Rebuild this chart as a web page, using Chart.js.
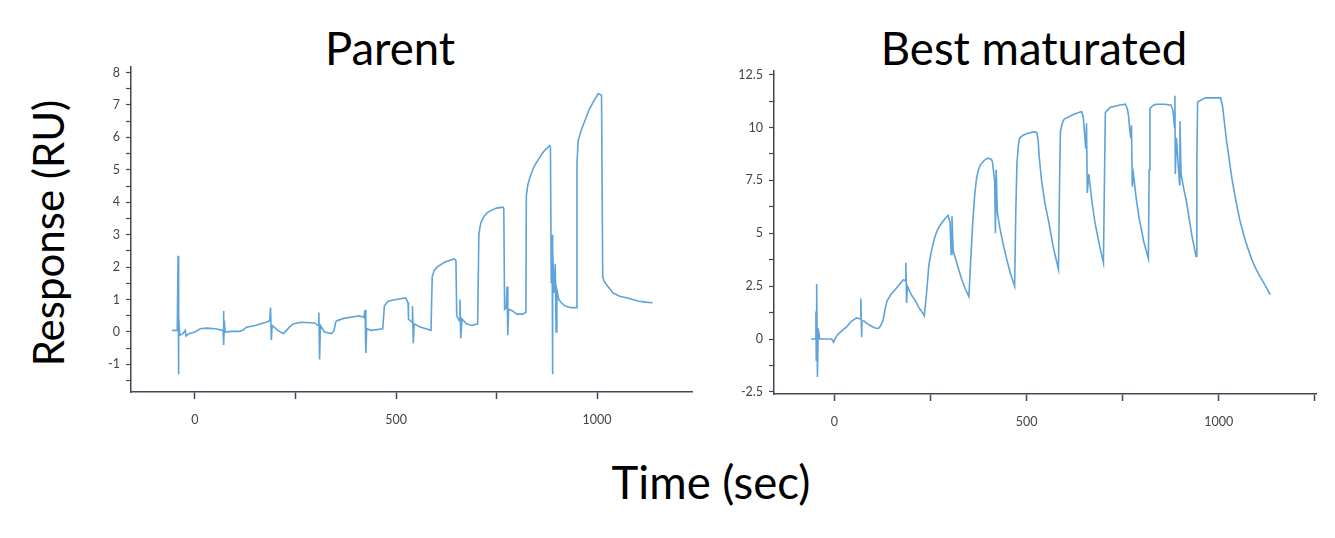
<!DOCTYPE html>
<html>
<head>
<meta charset="utf-8">
<script src="https://cdn.jsdelivr.net/npm/chart.js@4/dist/chart.umd.min.js"></script>
<style>
    body { margin:0; width:1335px; height:538px; background:#fff; position:relative; overflow:hidden; font-family:Lato, sans-serif; }
    canvas { position:absolute; }
    .lbl { position:absolute; color:#000; font-family:Lato, sans-serif; font-size:45.5px; white-space:nowrap; transform:translate(-50%,-50%); }
</style>
</head>
<body>
<div class="lbl" style="left:390px;top:47px;">Parent</div>
<div class="lbl" style="left:1034px;top:47px;">Best maturated</div>
<div class="lbl" style="left:711px;top:481px;">Time (sec)</div>
<div class="lbl" style="left:48px;top:233px;font-size:42px;transform:translate(-50%,-50%) rotate(-90deg);">Response (RU)</div>

<canvas id="parentChart" width="650" height="410" style="left:60px;top:50px;"></canvas>
<canvas id="bestChart" width="635" height="410" style="left:700px;top:50px;"></canvas>

<script>
// Parent sensorgram (time in sec, response in RU)
const parentTime = [-57,-44,-42,-41,-40,-38,-30,-24,-22,-15,0,13,30,51,70,71,72,73,75,90,110,119,128,150,177,186,188,190,192,206,220,235,244,264,298,306,308,310,312,322,340,346,350,353,370,409,420,423,425,427,438,467,471,480,500,524,530,531,540,541,543,545,560,587,589,590,595,602,620,645,649,651,657,659,661,664,675,689,703,706,709,712,718,727,737,750,766,768,770,774,776,778,780,790,800,814,823,824,828,834,843,853,862,870,882,884,886,888,889,890,893,896,898,900,905,911,921,935,949,950,953,960,969,980,991,1003,1011,1014,1018,1027,1040,1056,1075,1104,1120,1138];
const parentResp = [0.05,0.05,2.35,-1.3,0.5,-0.1,-0.05,0.05,-0.12,-0.05,0.0,0.1,0.12,0.1,0.05,0.65,-0.4,0.35,0.0,0.02,0.02,0.05,0.15,0.2,0.3,0.35,0.75,-0.25,0.2,0.05,-0.05,0.15,0.25,0.3,0.28,0.2,0.6,-0.85,0.2,0.0,-0.05,0.05,0.3,0.35,0.42,0.5,0.45,0.68,-0.65,0.1,0.05,0.1,0.8,0.95,1.0,1.05,0.9,0.4,0.3,0.8,-0.35,0.25,0.15,0.05,0.05,1.7,1.9,2.0,2.15,2.25,2.2,0.5,0.35,1.0,-0.2,0.4,0.25,0.2,0.25,3.0,3.25,3.4,3.55,3.68,3.75,3.82,3.85,3.8,0.7,0.75,1.4,-0.1,0.7,0.65,0.55,0.55,0.6,4.2,4.55,4.8,5.1,5.3,5.48,5.6,5.75,5.7,1.5,3.0,-1.3,2.5,1.2,2.1,0.0,1.3,1.0,0.9,0.8,0.75,0.75,5.2,5.9,6.2,6.5,6.85,7.1,7.35,7.3,1.7,1.55,1.4,1.2,1.1,1.05,0.95,0.92,0.9];

// Best maturated sensorgram
const bestTime = [-60,-50,-48,-47,-46,-44,-42,-38,-20,-7,-2,0,8,20,33,45,58,68,69,71,72,77,87,97,106,115,121,127,132,137,147,157,170,180,185,186,188,190,200,211,221,231,234,240,246,253,261,268,276,286,296,301,304,306,309,315,320,330,340,350,355,360,365,370,375,379,390,399,408,411,415,417,419,421,424,430,439,448,458,469,472,475,479,482,490,500,521,527,530,533,539,548,558,570,583,586,588,593,598,620,643,646,648,651,654,656,658,662,670,678,690,700,703,705,717,740,757,762,765,768,771,773,775,778,785,792,805,817,819,821,830,837,860,876,881,885,886,887,890,898,899,902,909,916,930,941,943,945,965,1005,1010,1015,1020,1025,1030,1035,1045,1055,1070,1085,1097,1109,1122,1134];
const bestResp = [0.0,0.0,1.3,-1.0,2.6,-1.8,0.5,0.0,0.0,0.0,-0.15,-0.05,0.2,0.4,0.6,0.85,1.0,0.95,1.9,0.1,0.85,0.85,0.7,0.6,0.52,0.5,0.65,0.9,1.4,1.8,2.1,2.3,2.6,2.8,2.75,3.6,1.7,2.5,2.1,1.8,1.45,1.2,1.1,2.2,3.5,4.2,4.8,5.15,5.4,5.65,5.85,5.5,4.0,5.8,4.2,3.8,3.5,2.9,2.4,2.0,3.8,5.5,6.8,7.6,8.0,8.2,8.45,8.55,8.5,8.4,7.8,7.5,5.0,8.0,6.0,5.3,4.5,3.8,3.1,2.5,6.0,8.3,9.2,9.5,9.62,9.7,9.8,9.75,9.4,8.6,7.5,6.4,5.5,4.3,3.3,7.5,9.8,10.2,10.4,10.6,10.75,10.6,10.4,9.7,9.0,10.2,6.9,7.8,6.5,5.5,4.4,3.6,8.0,10.7,10.95,11.05,11.1,10.9,10.6,10.0,9.5,10.1,7.2,7.8,6.7,5.8,4.6,3.8,8.0,10.9,11.05,11.1,11.1,11.05,10.8,10.0,11.5,7.8,9.5,7.3,10.3,7.8,7.1,6.5,4.9,3.9,8.5,11.2,11.4,11.4,11.0,10.2,9.4,8.8,8.1,7.5,6.5,5.6,4.6,3.8,3.3,2.9,2.5,2.1];

const axisColor = '#3f4954';
const lineColor = '#5ea3da';
const tickFont = { family: 'Lato, sans-serif', size: 12.5 };

function isMultiple(v, step){
    return Math.abs(v/step - Math.round(v/step)) < 1e-6;
}

function makeChart(id, times, values, opt){
    const ctx = document.getElementById(id).getContext('2d');
    return new Chart(ctx, {
        type: 'line',
        data: {
            datasets: [{
                data: times.map((t,i)=>({x:t, y:values[i]})),
                borderColor: lineColor,
                borderWidth: 1.6,
                pointRadius: 0,
                tension: 0,
                fill: false
            }]
        },
        options: {
            responsive: false,
            animation: false,
            devicePixelRatio: 1,
            layout: { padding: opt.padding },
            plugins: { legend:{display:false}, tooltip:{enabled:false} },
            scales: {
                x: {
                    type: 'linear',
                    min: opt.xMin, max: opt.xMax,
                    afterFit: s => { s.height = 50; },
                    border: { display:true, color:axisColor, width:1.5 },
                    grid: { drawOnChartArea:false, drawTicks:true, tickLength:7, color:axisColor, tickWidth:1.5 },
                    ticks: {
                        stepSize: 250, includeBounds: false, autoSkip: false, maxRotation: 0,
                        padding: 13, color: '#444', font: tickFont,
                        callback: v => isMultiple(v, 500) ? String(v) : ''
                    }
                },
                y: {
                    min: opt.yMin, max: opt.yMax,
                    afterFit: s => { s.width = opt.yWidth; },
                    border: { display:true, color:axisColor, width:1.5 },
                    grid: { drawOnChartArea:false, drawTicks:true, tickLength:5, color:axisColor, tickWidth:1.2 },
                    ticks: {
                        stepSize: opt.yStep, includeBounds: false, autoSkip: false,
                        padding: 6, color: '#444', font: tickFont,
                        callback: v => isMultiple(v, opt.yLabelStep) ? String(v) : ''
                    }
                }
            }
        }
    });
}

makeChart('parentChart', parentTime, parentResp, {
    xMin: -159, xMax: 1236, yMin: -1.85, yMax: 8.17,
    yStep: 0.5, yLabelStep: 1, yWidth: 71,
    padding: { top:17, right:18, bottom:18, left:0 }
});

makeChart('bestChart', bestTime, bestResp, {
    xMin: -157, xMax: 1253, yMin: -2.6, yMax: 12.67,
    yStep: 1.25, yLabelStep: 2.5, yWidth: 74,
    padding: { top:21, right:19, bottom:16, left:0 }
});
</script>
</body>
</html>
